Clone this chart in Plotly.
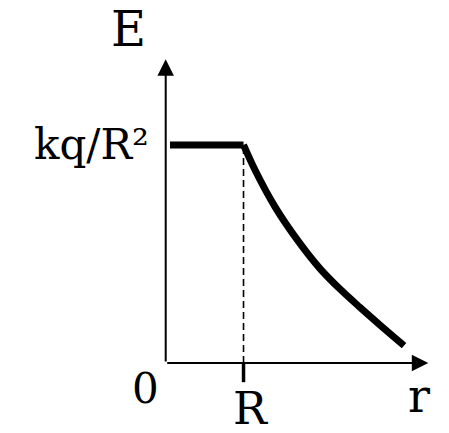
import plotly.graph_objects as go

# field of a charged sphere: flat inside, falling off outside (units of R and kq/R^2)
flat_r = [0.055, 1.0]
flat_E = [1.0, 1.0]

curve_r = [1.0, 1.148, 1.405, 1.701, 1.983, 2.240, 2.497, 2.755, 3.063]
curve_E = [1.0, 0.885, 0.716, 0.560, 0.433, 0.339, 0.255, 0.174, 0.080]

R_pos = 1.0
E_top = 1.0
x_axis_end = 3.375
y_axis_end = 1.393

serif = "DejaVu Serif"

fig = go.Figure()

fig.add_trace(
    go.Scatter(
        x=flat_r,
        y=flat_E,
        mode="lines",
        line={"color": "black", "width": 7},
        hoverinfo="skip",
        showlegend=False,
    )
)

fig.add_trace(
    go.Scatter(
        x=curve_r,
        y=curve_E,
        mode="lines",
        line={"color": "black", "width": 7, "shape": "spline", "smoothing": 1},
        hoverinfo="skip",
        showlegend=False,
    )
)

# dashed guide at r = R
fig.add_trace(
    go.Scatter(
        x=[R_pos, R_pos],
        y=[0, E_top],
        mode="lines",
        line={"color": "black", "width": 1.6, "dash": "7px,4px"},
        hoverinfo="skip",
        showlegend=False,
    )
)

# small tick under the axis at R
fig.add_shape(
    type="line",
    x0=R_pos, x1=R_pos, y0=0, y1=-0.088,
    xref="x", yref="y",
    line={"color": "black", "width": 3.5},
)

annotations = []

# axes with arrow heads
for tip_x, tip_y in [(0, y_axis_end), (x_axis_end, 0)]:
    annotations.append(
        {
            "x": tip_x, "y": tip_y,
            "ax": 0, "ay": 0,
            "xref": "x", "yref": "y",
            "axref": "x", "ayref": "y",
            "text": "",
            "showarrow": True,
            "arrowhead": 2,
            "arrowsize": 1.65,
            "arrowwidth": 2,
            "arrowcolor": "black",
            "standoff": 0,
            "startstandoff": 0,
        }
    )

labels = [
    ("E", -0.472, 1.534, "center", 48),
    ("kq/R²", -0.19, E_top, "right", 42),
    ("0", -0.266, -0.117, "center", 42),
    ("R", 1.096, -0.209, "center", 45),
    ("r", 3.256, -0.151, "center", 46),
]
for text, x, y, xanchor, size in labels:
    annotations.append(
        {
            "x": x, "y": y,
            "xref": "x", "yref": "y",
            "text": text,
            "showarrow": False,
            "xanchor": xanchor,
            "yanchor": "middle",
            "font": {"family": serif, "size": size, "color": "black"},
        }
    )

# the page body has an 8px margin, so the figure is 8px smaller and the
# ranges are set so the drawing lands where the reference has it
fig.update_layout(
    width=441,
    height=425,
    margin={"l": 0, "r": 0, "t": 0, "b": 0},
    paper_bgcolor="white",
    plot_bgcolor="white",
    xaxis={"range": [-2.027, 3.641], "visible": False, "fixedrange": True},
    yaxis={"range": [-0.321, 1.628], "visible": False, "fixedrange": True},
    annotations=annotations,
)

fig.write_html("out.html")
